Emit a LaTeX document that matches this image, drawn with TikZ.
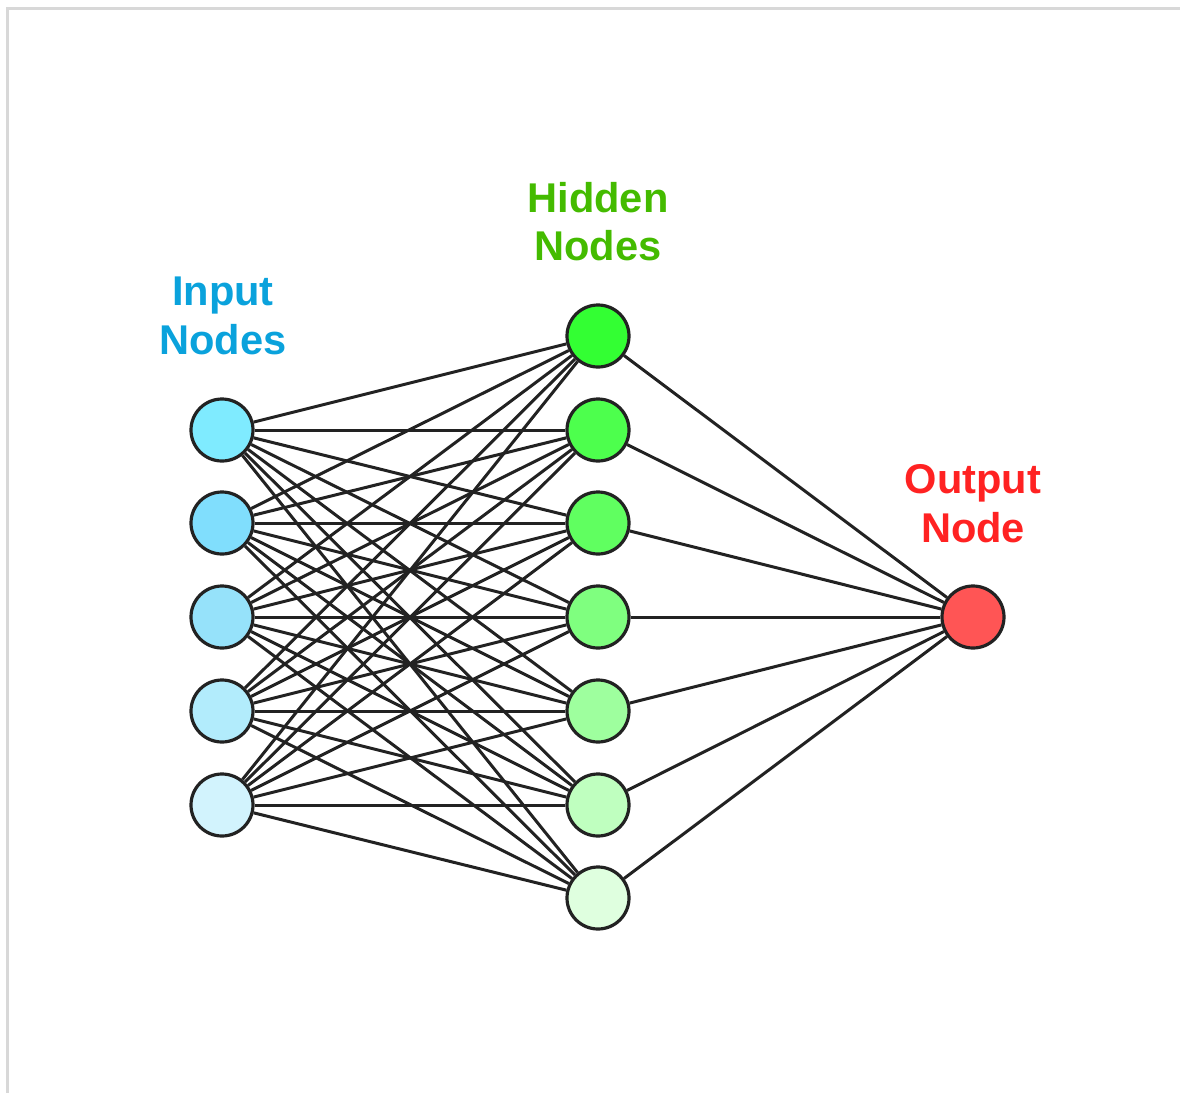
\documentclass[tikz,border=0pt]{standalone}
\usepackage{fontspec}
\setmainfont{Liberation Sans}
\usetikzlibrary{backgrounds}
\definecolor{inA}{HTML}{7FEBFF}
\definecolor{inB}{HTML}{80DEFD}
\definecolor{inC}{HTML}{96E2FA}
\definecolor{inD}{HTML}{B2ECFC}
\definecolor{inE}{HTML}{D2F3FD}
\definecolor{hA}{HTML}{33FF33}
\definecolor{hB}{HTML}{4DFF4D}
\definecolor{hC}{HTML}{60FF60}
\definecolor{hD}{HTML}{7FFF7F}
\definecolor{hE}{HTML}{9EFF9E}
\definecolor{hF}{HTML}{BFFFBF}
\definecolor{hG}{HTML}{DFFFDF}
\definecolor{outC}{HTML}{FF5555}
\definecolor{inLbl}{HTML}{0AA2DC}
\definecolor{hLbl}{HTML}{44BB00}
\definecolor{outLbl}{HTML}{FF2222}
\definecolor{frameC}{HTML}{D8D8D8}
\definecolor{lineC}{HTML}{222222}
\tikzset{
  x=0.5pt, y=-0.5pt,
  neuron/.style={circle, draw=lineC, line width=1.6pt, minimum size=31pt, inner sep=0pt},
  edge/.style={draw=lineC, line width=1.5pt},
  lbl/.style={font=\fontsize{20.8pt}{24.5pt}\selectfont\bfseries, anchor=base, inner sep=0pt}
}
\begin{document}
\begin{tikzpicture}
\useasboundingbox (0,0) rectangle (1180,1093);
\draw[frameC, line width=1.2pt] (7.5,1093) -- (7.5,8.5) -- (1180,8.5);
% input nodes
\node[neuron, fill=inA] (i1) at (222,430) {};
\node[neuron, fill=inB] (i2) at (222,523) {};
\node[neuron, fill=inC] (i3) at (222,617) {};
\node[neuron, fill=inD] (i4) at (222,711) {};
\node[neuron, fill=inE] (i5) at (222,805) {};
% hidden nodes
\node[neuron, fill=hA] (h1) at (598,336) {};
\node[neuron, fill=hB] (h2) at (598,430) {};
\node[neuron, fill=hC] (h3) at (598,523) {};
\node[neuron, fill=hD] (h4) at (598,617) {};
\node[neuron, fill=hE] (h5) at (598,711) {};
\node[neuron, fill=hF] (h6) at (598,805) {};
\node[neuron, fill=hG] (h7) at (598,898) {};
% output node
\node[neuron, fill=outC] (o1) at (973,617) {};
% labels
\node[lbl, text=inLbl] (tin1) at (223,305) {Input};
\node[lbl, text=inLbl] (tin2) at (223,354) {Nodes};
\node[lbl, text=hLbl] (th1) at (598,212) {Hidden};
\node[lbl, text=hLbl] (th2) at (598,260) {Nodes};
\node[lbl, text=outLbl] (to1) at (973,493) {Output};
\node[lbl, text=outLbl] (to2) at (973,542) {Node};
% connections
\begin{scope}[on background layer]
\foreach \i in {1,...,5}{
  \foreach \h in {1,...,7}{
    \draw[edge] (i\i) -- (h\h);
  }
}
\foreach \h in {1,...,7}{
  \draw[edge] (h\h) -- (o1);
}
\end{scope}
\end{tikzpicture}
\end{document}
